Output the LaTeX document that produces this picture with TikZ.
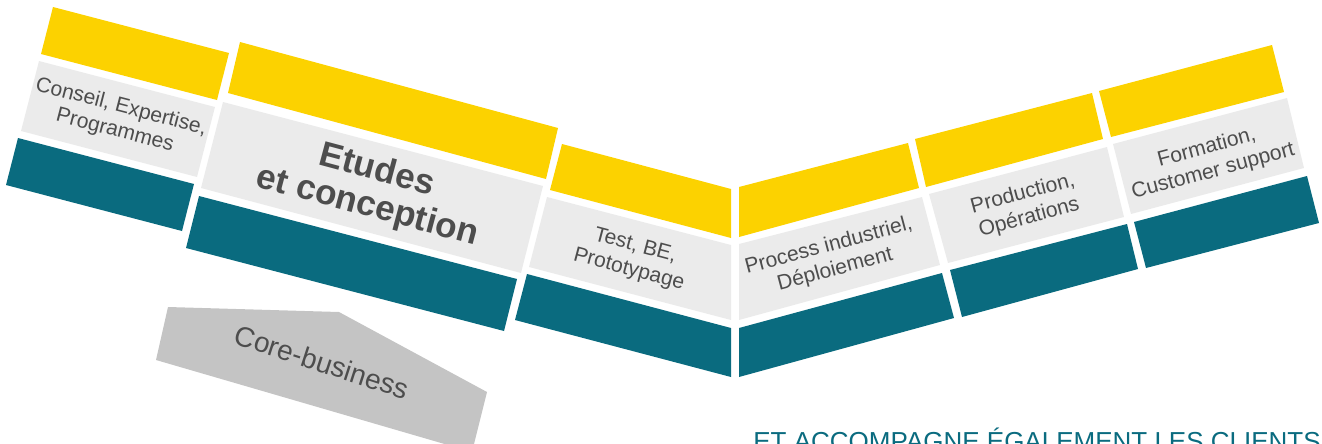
\documentclass[tikz,border=0pt]{standalone}
\usepackage{fontspec}
\setmainfont{Liberation Sans}
\definecolor{bandyellow}{HTML}{FCD200}
\definecolor{bandgrey}{HTML}{EBEBEB}
\definecolor{bandteal}{HTML}{0A6B7F}
\definecolor{coregrey}{HTML}{C4C4C4}
\definecolor{labelgrey}{HTML}{4D4D4D}

\begin{document}
\begin{tikzpicture}[x=0.02cm,y=-0.02cm,
	yellowband/.style={fill=bandyellow},
	greyband/.style={fill=bandgrey},
	tealband/.style={fill=bandteal},
	steplabel/.style={text=labelgrey,align=center,inner sep=0pt,font=\fontsize{12}{14}\selectfont}]
	\useasboundingbox (0,0) rectangle (1322,443);
	\clip (0,0) rectangle (1322,443);
	% left arm
	\fill[yellowband] (53,7) -- (229,53) -- (217,100) -- (41,54) -- cycle;
	\fill[greyband] (39,61) -- (215,107) -- (197,177) -- (21,131) -- cycle;
	\fill[tealband] (18,138) -- (194,184) -- (182,231) -- (6,185) -- cycle;
	\fill[yellowband] (240,42) -- (558,128) -- (546,179) -- (228,93) -- cycle;
	\fill[greyband] (223,102) -- (543,186) -- (521,273) -- (201,188) -- cycle;
	\fill[tealband] (199,196) -- (517,279) -- (504,331) -- (186,248) -- cycle;
	\fill[yellowband] (562,144) -- (731,189) -- (731,238) -- (550,190) -- cycle;
	\fill[greyband] (547,197) -- (731,245) -- (731,320) -- (529,267) -- cycle;
	\fill[tealband] (527,274) -- (731,328) -- (731,377) -- (515,320) -- cycle;
	% right arm
	\fill[yellowband] (739,187) -- (908,143) -- (919,188) -- (739,237) -- cycle;
	\fill[greyband] (739,244) -- (922,197) -- (940,265) -- (739,320) -- cycle;
	\fill[tealband] (739,328) -- (942,273) -- (954,318) -- (739,377) -- cycle;
	\fill[yellowband] (915,139) -- (1092,93) -- (1103,139) -- (926,187) -- cycle;
	\fill[greyband] (929,194) -- (1107,147) -- (1124,217) -- (948,263) -- cycle;
	\fill[tealband] (950,270) -- (1127,224) -- (1138,269) -- (962,317) -- cycle;
	\fill[yellowband] (1099,91) -- (1272,45) -- (1284,92) -- (1111,137) -- cycle;
	\fill[greyband] (1113,144) -- (1287,98) -- (1304,168) -- (1131,214) -- cycle;
	\fill[tealband] (1134,222) -- (1307,176) -- (1319,223) -- (1146,268) -- cycle;
	% core-business
	\fill[coregrey] (168,307) -- (339,312) -- (487,392) -- (472,452) -- (156,360) -- cycle;
	% labels
	\node (conseil) [steplabel,rotate=-14.6] at (118,119) {Conseil, Expertise,\\Programmes};
	\node (etudes) [steplabel,rotate=-15,font=\fontsize{20}{21}\selectfont\bfseries] at (372,189) {Etudes\\et conception};
	\node (test) [steplabel,rotate=-15] at (632,258) {Test, BE,\\Prototypage};
	\node (process) [steplabel,rotate=15] at (832,258) {Process industriel,\\Déploiement};
	\node (production) [steplabel,rotate=15] at (1026,206) {Production,\\Opérations};
	\node (formation) [steplabel,rotate=15] at (1210,160) {Formation,\\Customer support};
	\node (core) [steplabel,rotate=-18,font=\fontsize{16}{18}\selectfont] at (322,362) {Core-business};
	\node (accomp) [anchor=base west,inner sep=0pt,text=bandteal,font=\fontsize{14.8}{16}\selectfont] at (753,450) {ET ACCOMPAGNE ÉGALEMENT LES CLIENTS};
\end{tikzpicture}
\end{document}
